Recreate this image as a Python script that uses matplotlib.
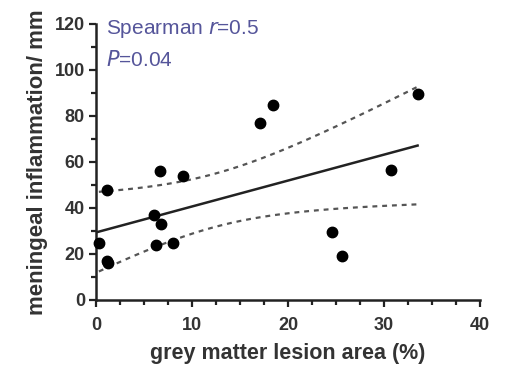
import matplotlib
matplotlib.use("Agg")
import matplotlib.pyplot as plt
import numpy as np
from matplotlib.ticker import MultipleLocator

plt.rcParams['font.family'] = ['Liberation Sans', 'DejaVu Sans']

# grey matter lesion area (%) vs meningeal inflammation / mm
lesion_area = [0.3, 1.1, 1.1, 1.2, 6.0, 6.3, 6.7, 6.8, 8.0, 9.1,
               17.1, 18.4, 24.6, 25.6, 30.7, 33.5]
inflammation = [25, 48, 17, 16, 37, 24, 56, 33, 25, 54,
                77, 85, 29.5, 19, 56.5, 89.6]

x_ticks = [0, 10, 20, 30, 40]
y_ticks = [0, 20, 40, 60, 80, 100, 120]

x = np.array(lesion_area)
y = np.array(inflammation)

# linear fit with 95% confidence band
n = len(x)
slope, icpt = np.polyfit(x, y, 1)
resid = y - (slope * x + icpt)
s = np.sqrt(np.sum(resid ** 2) / (n - 2))
t = 2.145  # t(0.975, 14)
xs = np.linspace(x.min(), x.max(), 100)
fit = slope * xs + icpt
se = s * np.sqrt(1 / n + (xs - x.mean()) ** 2 / np.sum((x - x.mean()) ** 2))

fig = plt.figure(figsize=(5.1, 3.69), dpi=100)
ax = fig.add_axes([96 / 510, 1 - 300 / 369, 384 / 510, 276 / 369])

ax.plot([0, x.max()], [icpt, slope * x.max() + icpt], color="#222222", lw=1.8)
ax.plot(xs, fit + t * se, color="#555555", lw=1.6, ls=(0, (2.2, 2.2)))
ax.plot(xs, fit - t * se, color="#555555", lw=1.6, ls=(0, (2.2, 2.2)))
ax.plot(x, y, "o", color="black", ms=7.5, clip_on=False, zorder=5)

ax.set_xlim(0, 40)
ax.set_ylim(0, 120)
ax.set_xticks(x_ticks)
ax.set_yticks(y_ticks)
ax.xaxis.set_minor_locator(MultipleLocator(2.5))
ax.yaxis.set_minor_locator(MultipleLocator(10))

for side in ["top", "right"]:
    ax.spines[side].set_visible(False)
for side in ["left", "bottom"]:
    ax.spines[side].set_linewidth(1.8)
    ax.spines[side].set_color("#222222")

ax.tick_params(which="major", length=5, width=1.6, color="#222222",
               labelsize=13, labelcolor="#333333")
ax.tick_params(axis="x", which="major", pad=7)
ax.tick_params(axis="y", which="major", pad=3)
ax.tick_params(which="minor", length=3.5, width=1.6, color="#222222")
for lbl in ax.get_xticklabels() + ax.get_yticklabels():
    lbl.set_fontweight("bold")

ax.set_xlabel("grey matter lesion area (%)", fontsize=15.5, fontweight="bold",
              color="#333333", labelpad=7)
ax.set_ylabel("meningeal inflammation/ mm", fontsize=16, fontweight="bold",
              color="#333333", labelpad=5)

ax.text(0.027, 1.02, "Spearman $\\it{r}$=0.5", transform=ax.transAxes,
        fontsize=15, color="#55559a", va="top")
ax.text(0.027, 0.905, "$\\it{P}$=0.04", transform=ax.transAxes,
        fontsize=15, color="#55559a", va="top")

fig.savefig("out.png", dpi=100)
